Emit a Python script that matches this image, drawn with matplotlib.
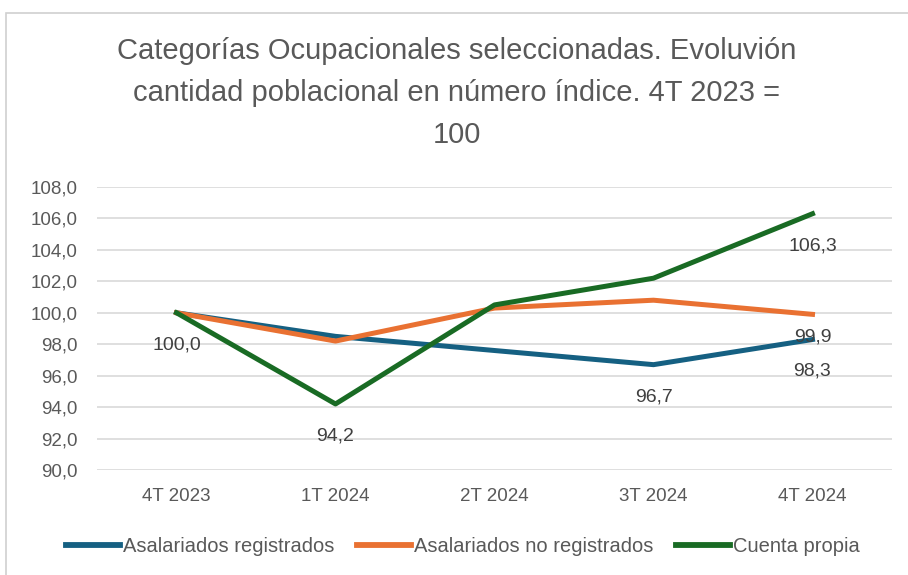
import matplotlib
matplotlib.use("Agg")
import matplotlib.pyplot as plt
from matplotlib.ticker import FuncFormatter, MultipleLocator
from matplotlib.patches import Rectangle

periods = ["4T 2023", "1T 2024", "2T 2024", "3T 2024", "4T 2024"]
registrados = [100.0, 98.5, 97.6, 96.7, 98.3]
no_registrados = [100.0, 98.2, 100.3, 100.8, 99.9]
cuenta_propia = [100.0, 94.2, 100.5, 102.2, 106.3]

# which points carry a data label (series, index, vertical offset in pt)
label_points = [
    (registrados, 0, -23), (cuenta_propia, 1, -23), (registrados, 3, -23),
    (cuenta_propia, 4, -23), (no_registrados, 4, -16), (registrados, 4, -23),
]

blue = "#156082"
orange = "#E97132"
green = "#196B24"
grey = "#595959"

plt.rcParams["font.family"] = ["Liberation Sans", "DejaVu Sans"]

fig = plt.figure(figsize=(9.08, 5.75), dpi=100)
fig.patches.append(Rectangle((6 / 908, -0.1), 1.2, 1 - 13 / 575 + 0.1,
                             transform=fig.transFigure, fill=False,
                             edgecolor="#d0d0d0", linewidth=1.2))

ax = fig.add_axes([97 / 908, 1 - 470 / 575, 795 / 908, 283 / 575])
x = range(len(periods))
ax.plot(x, registrados, color=blue, lw=3.6, label="Asalariados registrados")
ax.plot(x, no_registrados, color=orange, lw=3.6, label="Asalariados no registrados")
ax.plot(x, cuenta_propia, color=green, lw=3.6, label="Cuenta propia")

for series, i, dy in label_points:
    ax.annotate(f"{series[i]:.1f}".replace(".", ","), (i, series[i]),
                xytext=(0, dy), textcoords="offset points",
                ha="center", va="center", fontsize=14, color="#404040")

ax.set_xlim(-0.5, len(periods) - 0.5)
ax.set_ylim(90, 108)
ax.yaxis.set_major_locator(MultipleLocator(2))
ax.yaxis.set_major_formatter(FuncFormatter(lambda v, p: f"{v:.1f}".replace(".", ",")))
ax.set_xticks(list(x))
ax.set_xticklabels(periods)
ax.tick_params(length=0, labelsize=13.5, labelcolor=grey)
ax.tick_params(axis="x", pad=13)
ax.tick_params(axis="y", pad=14)
ax.grid(axis="y", color="#d9d9d9", lw=1.2)
ax.set_axisbelow(True)
for s in ax.spines.values():
    s.set_visible(False)

fig.text(0.503, 1 - 93 / 575,
         "Categorías Ocupacionales seleccionadas. Evoluvión\ncantidad poblacional en número índice. 4T 2023 =\n100",
         ha="center", va="center", fontsize=21, color=grey, linespacing=1.62)

fig.legend(loc="center", bbox_to_anchor=(0.51, 1 - 547 / 575), ncol=3, frameon=False,
           fontsize=14.5, labelcolor=grey, handlelength=2.7, handletextpad=0.15,
           columnspacing=1.1)
for h in fig.legends[0].get_lines():
    h.set_linewidth(4.2)

fig.savefig("out.png", dpi=100)
